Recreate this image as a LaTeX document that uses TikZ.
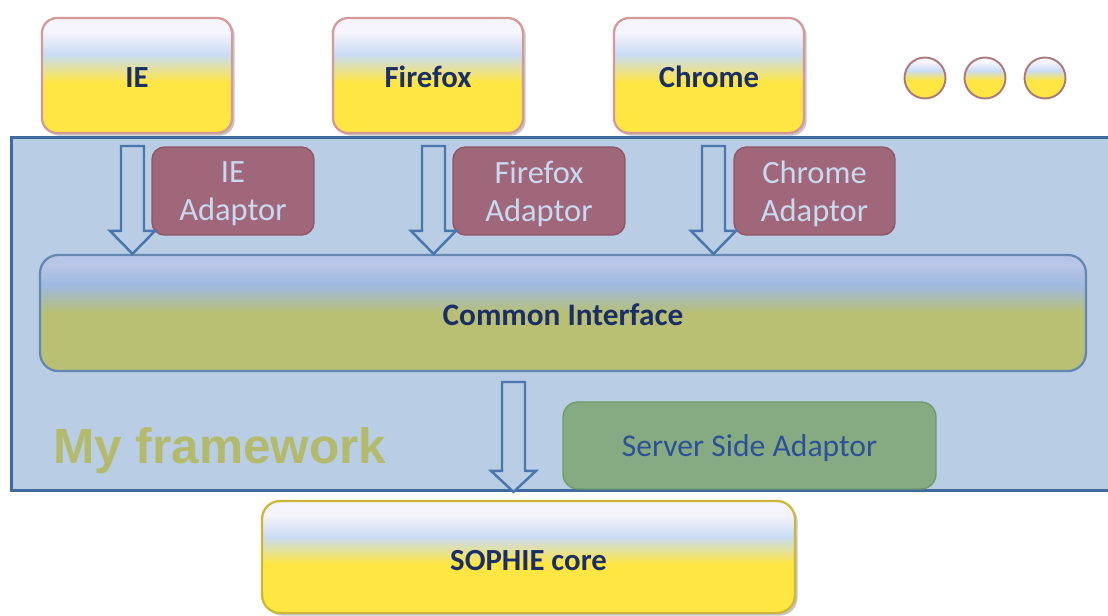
\documentclass[tikz,border=0pt]{standalone}
\usepackage{fontspec}
\newfontfamily\carlito{Carlito}
\newfontfamily\arialfont{Liberation Sans}
\usepackage{xcolor}
\usepackage{tikz}
\usetikzlibrary{positioning,calc,shadows}

\definecolor{bTop}{HTML}{F6F4FC}
\definecolor{bBlue}{HTML}{C9DCF4}
\definecolor{bYellow}{HTML}{FFE643}
\definecolor{cTop}{HTML}{B9C5E6}
\definecolor{cBlue}{HTML}{9DBAE2}
\definecolor{cOlive}{HTML}{B9C073}
\definecolor{fwFill}{HTML}{B9CDE5}
\definecolor{fwLine}{HTML}{3F6A9E}
\definecolor{arrLine}{HTML}{4A76AE}
\definecolor{adpFill}{HTML}{A0677A}
\definecolor{adpLine}{HTML}{8E5668}
\definecolor{adpText}{HTML}{C8D9F0}
\definecolor{srvFill}{HTML}{86AB83}
\definecolor{srvLine}{HTML}{6F9A6C}
\definecolor{navy}{HTML}{1B2F66}
\definecolor{srvText}{HTML}{2C5196}
\definecolor{olive}{HTML}{B4BA6C}
\definecolor{pinkLine}{HTML}{D49A98}

\pgfdeclareverticalshading{browsershade}{100bp}{color(0bp)=(bYellow); color(25bp)=(bYellow); color(47bp)=(bYellow); color(59bp)=(bBlue); color(69bp)=(bTop); color(75bp)=(bTop); color(100bp)=(bTop)}
\pgfdeclareverticalshading{commonshade}{100bp}{color(0bp)=(cOlive); color(25bp)=(cOlive); color(50bp)=(cOlive); color(62bp)=(cBlue); color(71bp)=(cTop); color(75bp)=(cTop); color(100bp)=(cTop)}

\begin{document}
\begin{tikzpicture}[
  x=0.02cm, y=-0.02cm,
  frame/.style={draw=fwLine,line width=1.6pt,fill=fwFill,
                minimum width=22.16cm,minimum height=7.06cm,inner sep=0pt},
  browser/.style={draw=pinkLine,line width=1.3pt,rounded corners=0.3cm,
                  shading=browsershade,drop shadow={shadow xshift=1.5pt,shadow yshift=-1.5pt,opacity=0.45},
                  font=\carlito\bfseries\fontsize{17.5}{21}\selectfont,text=navy,
                  text height=14pt,text depth=0pt,
                  minimum width=3.8cm,minimum height=2.3cm,inner sep=0pt},
  adaptor/.style={draw=adpLine,line width=0.8pt,rounded corners=0.25cm,fill=adpFill,
                  font=\carlito\fontsize{18.5}{21.5}\selectfont,text=adpText,align=center,
                  text depth=0pt,minimum height=1.76cm,inner sep=0pt},
  common/.style={draw=fwLine!80,line width=1.3pt,rounded corners=0.36cm,shading=commonshade,
                 font=\carlito\bfseries\fontsize{17.8}{21}\selectfont,text=navy,
                 text height=14pt,text depth=0pt,
                 minimum width=20.92cm,minimum height=2.32cm,inner sep=0pt},
  server/.style={draw=srvLine,line width=0.8pt,rounded corners=0.3cm,fill=srvFill,
                 font=\carlito\fontsize{18}{21}\selectfont,text=srvText,
                 text depth=0pt,minimum width=7.46cm,minimum height=1.74cm,inner sep=0pt},
  core/.style={draw=bYellow!80!black,line width=1.3pt,rounded corners=0.36cm,
               shading=browsershade,drop shadow={shadow xshift=1.5pt,shadow yshift=-1.5pt,opacity=0.45},
               font=\carlito\bfseries\fontsize{17.5}{21}\selectfont,text=navy,
               text height=15.5pt,text depth=0pt,
               minimum width=10.66cm,minimum height=2.24cm,inner sep=0pt},
  ball/.style={circle,draw=pinkLine!80!black,line width=1.1pt,shading=browsershade,
               minimum size=0.82cm,inner sep=0pt},
  hollow/.style={draw=arrLine,line width=1.4pt,fill=fwFill,line join=miter},
]
  \useasboundingbox (0,0) rectangle (1108,615);

  % framework box
  \node[frame] (fw) at (565,314) {};
  \node[anchor=base west,font=\arialfont\bfseries\fontsize{28.2}{32}\selectfont,text=olive]
    (fwlabel) at (47,463) {My framework};

  % browsers
  \node[browser] (ie)     at (137,75.5) {IE};
  \node[browser] (ff)     at (428,75.5) {Firefox};
  \node[browser] (chrome) at (709,75.5) {Chrome};
  \node[ball] (d1) at (925,78) {};
  \node[ball] (d2) at (985,78) {};
  \node[ball] (d3) at (1045,78) {};

  % adaptors
  \node[adaptor,minimum width=3.24cm] (ieadp)     at (233,191)   {IE\\Adaptor};
  \node[adaptor,minimum width=3.44cm] (ffadp)     at (539,191)   {Firefox\\Adaptor};
  \node[adaptor,minimum width=3.22cm] (chromeadp) at (814.5,191) {Chrome\\Adaptor};

  \node[common] (ci)  at (563,313)     {Common Interface};
  \node[server] (ssa) at (749.5,445.5) {Server Side Adaptor};
  \node[core]   (core) at (528.5,557)  {SOPHIE core};

  % hollow arrows
  \coordinate (ieIn)     at (132.5,146);
  \coordinate (ffIn)     at (433.5,146);
  \coordinate (chromeIn) at (713.5,146);
  \coordinate (ciOut)    at (513.5,382);
  \foreach \s in {ieIn,ffIn,chromeIn}{
    \draw[hollow] ($(\s)+(-11.5,0)$) -- ($(\s |- ci.north)+(-11.5,-23)$)
      -- ($(\s |- ci.north)+(-22.5,-23)$) -- (\s |- ci.north)
      -- ($(\s |- ci.north)+(22.5,-23)$) -- ($(\s |- ci.north)+(11.5,-23)$)
      -- ($(\s)+(11.5,0)$) -- cycle;
  }
  \draw[hollow] ($(ciOut)+(-11.5,0)$) -- ($(ciOut |- fw.south)+(-11.5,-21)$)
    -- ($(ciOut |- fw.south)+(-22.5,-21)$) -- (ciOut |- fw.south)
    -- ($(ciOut |- fw.south)+(22.5,-21)$) -- ($(ciOut |- fw.south)+(11.5,-21)$)
    -- ($(ciOut)+(11.5,0)$) -- cycle;
\end{tikzpicture}
\end{document}
